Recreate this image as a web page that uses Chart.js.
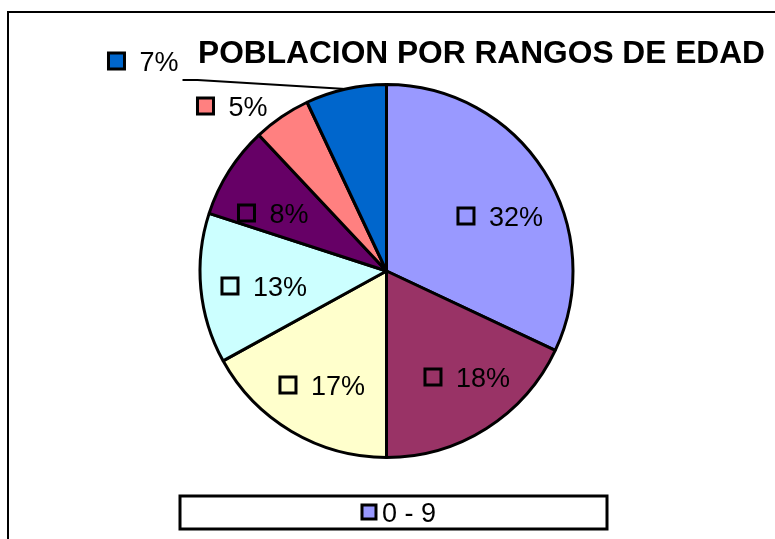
<!DOCTYPE html>
<html lang="es">
<head>
    <meta charset="UTF-8">
    <title>Poblacion por rangos de edad</title>
    <script src="https://cdn.jsdelivr.net/npm/chart.js"></script>
    <style>
        html, body {
            margin: 0;
            padding: 0;
            background: #fff;
            overflow: hidden;
        }
        /* frame of the chart area, runs past the right and bottom edge */
        .frame {
            position: absolute;
            left: 7px;
            top: 11px;
            width: 900px;
            height: 700px;
            border: 2px solid #000;
        }
        .chart-box {
            position: absolute;
            left: 0;
            top: 0;
            width: 775px;
            height: 539px;
        }
    </style>
</head>
<body>
    <div class="frame"></div>
    <div class="chart-box">
        <canvas id="pieChart" width="775" height="539"></canvas>
    </div>

    <script>
        // Data
        const ageRanges = ['0 - 9', '10 - 19', '20 - 29', '30 - 39', '40 - 49', '50 - 59', '60 y más'];
        const shares = [32, 18, 17, 13, 8, 5, 7];
        const sliceColors = ['#9999FF', '#993366', '#FFFFCC', '#CCFFFF', '#660066', '#FF8080', '#0066CC'];
        const titleText = 'POBLACION POR RANGOS DE EDAD';

        const FONT = '"Liberation Sans", Arial, sans-serif';

        // little square marker like the Excel legend key
        function drawKey(ctx, x, y, size, color) {
            ctx.save();
            ctx.fillStyle = color;
            ctx.strokeStyle = '#000';
            ctx.lineWidth = 3;
            ctx.fillRect(x, y, size, size);
            ctx.strokeRect(x, y, size, size);
            ctx.restore();
        }

        // data labels placed the way Excel left them (offsets from the pie centre)
        const excelLabels = {
            id: 'excelLabels',
            afterDatasetsDraw(chart, args, opts) {
                const ctx = chart.ctx;
                const arcs = chart.getDatasetMeta(0).data;
                const values = chart.data.datasets[0].data;
                const total = values.reduce((a, b) => a + b, 0);
                ctx.save();
                ctx.font = '27px ' + FONT;
                ctx.textAlign = 'left';
                ctx.textBaseline = 'alphabetic';
                arcs.forEach((arc, i) => {
                    const mid = (arc.startAngle + arc.endAngle) / 2;
                    const r = arc.outerRadius;
                    let ax = arc.x + Math.cos(mid) * r * opts.inside;
                    let ay = arc.y + Math.sin(mid) * r * opts.inside;
                    const moved = opts.moved[i];
                    if (moved) {
                        ax = arc.x + moved.dx;
                        ay = arc.y + moved.dy;
                    }
                    const txt = Math.round(values[i] / total * 100) + '%';
                    const tw = ctx.measureText(txt).width;
                    const box = 16, gap = 15;
                    const w = box + gap + tw;
                    const left = ax - w / 2;
                    drawKey(ctx, left, ay - box / 2, box, sliceColors[i]);
                    ctx.fillStyle = '#000';
                    ctx.fillText(txt, left + box + gap, ay + 10);

                    if (opts.leader.includes(i)) {
                        // leader line from the dragged label to the slice edge
                        const ex = arc.x + Math.cos(mid) * r;
                        const ey = arc.y + Math.sin(mid) * r;
                        const lx = left + w + 4;
                        const ly = ay + 19;
                        ctx.strokeStyle = '#000';
                        ctx.lineWidth = 2;
                        ctx.beginPath();
                        ctx.moveTo(lx, ly);
                        ctx.lineTo(lx + 15, ly);
                        ctx.lineTo(ex, ey);
                        ctx.stroke();
                    }
                });
                ctx.restore();
            },
            afterDraw(chart) {
                const ctx = chart.ctx;
                ctx.save();
                // title
                ctx.font = 'bold 31.7px ' + FONT;
                ctx.fillStyle = '#000';
                ctx.textAlign = 'center';
                ctx.textBaseline = 'alphabetic';
                ctx.fillText(titleText, 481.5, 63);

                // legend (only the first entry fits in the box)
                ctx.strokeStyle = '#000';
                ctx.lineWidth = 3;
                ctx.strokeRect(180, 496, 427, 33);
                ctx.font = '27px ' + FONT;
                const label = chart.data.labels[0];
                const tw = ctx.measureText(label).width;
                const left = 399 - (16 + 4 + tw) / 2;
                drawKey(ctx, left, 505, 14, sliceColors[0]);
                ctx.textAlign = 'left';
                ctx.fillText(label, left + 20, 522);
                ctx.restore();
            }
        };

        const pieChart = new Chart(document.getElementById('pieChart').getContext('2d'), {
            type: 'pie',
            data: {
                labels: ageRanges,
                datasets: [{
                    data: shares,
                    backgroundColor: sliceColors,
                    borderColor: '#000',
                    borderWidth: 3,
                    borderAlign: 'center'
                }]
            },
            options: {
                responsive: false,
                animation: false,
                layout: {
                    padding: { top: 83, bottom: 80, left: 100, right: 102 }
                },
                plugins: {
                    legend: { display: false },
                    tooltip: { enabled: false },
                    excelLabels: {
                        inside: 0.7,
                        moved: {
                            0: { dx: 114, dy: -55 },
                            1: { dx: 81, dy: 106 },
                            2: { dx: -64, dy: 114 },
                            3: { dx: -122, dy: 15 },
                            4: { dx: -113, dy: -58 },
                            5: { dx: -154, dy: -165 },
                            6: { dx: -243, dy: -210 }
                        },
                        leader: [6]
                    }
                }
            },
            plugins: [excelLabels]
        });
    </script>
</body>
</html>
